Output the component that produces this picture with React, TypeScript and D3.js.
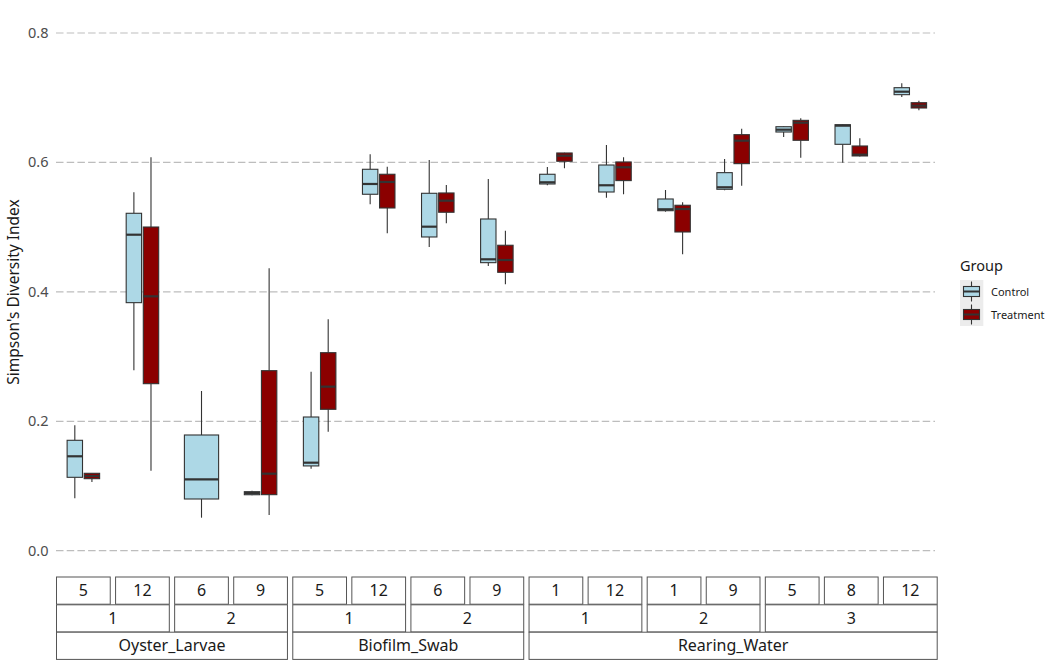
import React from "react";
import * as d3 from "d3";

const sources = ["Oyster_Larvae", "Biofilm_Swab", "Rearing_Water"];
const panelSource = [0, 0, 0, 0, 1, 1, 1, 1, 2, 2, 2, 2, 2, 2, 2];
const panelMid = ["1", "1", "2", "2", "1", "1", "2", "2", "1", "1", "2", "2", "3", "3", "3"];
const panelLabel = ["5", "12", "6", "9", "5", "12", "6", "9", "1", "12", "1", "9", "5", "8", "12"];
const groups = ["Control", "Treatment"];
const groupColors = ["#ADD8E6", "#8B0000"];
const yTicks = [0, 0.2, 0.4, 0.6, 0.8];

// [lower whisker, q1, median, q3, upper whisker]
const controlStats: (number[] | null)[] = [
  [0.081, 0.1134, 0.1459, 0.1706, 0.194],
  [0.2788, 0.3833, 0.4883, 0.5214, 0.5539],
  [0.051, 0.0799, 0.1103, 0.1788, 0.2468],
  [0.0855, 0.0865, 0.089, 0.0912, 0.0925],
  [0.1268, 0.131, 0.136, 0.2066, 0.2766],
  [0.5353, 0.5508, 0.5667, 0.5894, 0.6126],
  [0.4693, 0.4848, 0.5007, 0.5523, 0.6038],
  [0.44, 0.4451, 0.4503, 0.5126, 0.5744],
  [0.5647, 0.5667, 0.5693, 0.5817, 0.593],
  [0.5455, 0.5543, 0.5647, 0.596, 0.627],
  [0.5239, 0.5254, 0.5276, 0.5435, 0.5574],
  [0.557, 0.5585, 0.5616, 0.5842, 0.6053],
  [0.6393, 0.647, 0.6506, 0.6552, 0.656],
  [0.5996, 0.628, 0.6568, 0.6583, 0.659],
  [0.7011, 0.7047, 0.7093, 0.7155, 0.7223],
];
const treatmentStats: (number[] | null)[] = [
  [0.106, 0.1113, 0.1154, 0.1196, 0.1196],
  [0.1236, 0.2581, 0.3931, 0.5002, 0.608],
  null,
  [0.0552, 0.0866, 0.119, 0.2782, 0.4364],
  [0.184, 0.2185, 0.2535, 0.306, 0.3576],
  [0.4905, 0.5296, 0.5698, 0.5817, 0.5934],
  [0.506, 0.523, 0.5409, 0.5528, 0.5652],
  [0.4117, 0.4302, 0.4492, 0.472, 0.4945],
  [0.591, 0.6018, 0.6104, 0.6146, 0.615],
  [0.5508, 0.5719, 0.5925, 0.6007, 0.608],
  [0.458, 0.4925, 0.528, 0.5338, 0.5384],
  [0.564, 0.5981, 0.6336, 0.6429, 0.6521],
  [0.6073, 0.6342, 0.6614, 0.665, 0.6682],
  [0.609, 0.61, 0.612, 0.6254, 0.6373],
  [0.6806, 0.6841, 0.6877, 0.6923, 0.6954],
];

const FONT = "'Noto Sans', 'Open Sans', sans-serif";
const W = 1062, H = 671;
const plotLeft = 56, plotRight = 937.7;
const gap = 4.33;
const nP = panelLabel.length;
const panelW = (plotRight - plotLeft - gap * (nP - 1)) / nP;
const y = d3.scaleLinear().domain([0, 0.8]).range([550.7, 33]);

export default function App() {
  const panelX = (i: number) => plotLeft + i * (panelW + gap);
  const unit = panelW / 1.2; // one discrete level + 0.6 expansion on both sides
  const boxes: React.ReactNode[] = [];
  for (let i = 0; i < nP; i++) {
    const cx = panelX(i) + panelW / 2;
    const stats = [controlStats[i], treatmentStats[i]];
    const present = stats.filter((s) => s !== null).length;
    stats.forEach((s, g) => {
      if (!s) return;
      let bx: number, bw: number;
      if (present === 1) {
        bw = 0.75 * unit;
        bx = cx - bw / 2;
      } else {
        const half = 0.375 * unit;
        const center = cx + (g === 0 ? -half / 2 : half / 2);
        bw = half * 0.9;
        bx = center - bw / 2;
      }
      const mx = bx + bw / 2;
      boxes.push(
        <g key={`b${i}-${g}`}>
          <line x1={mx} x2={mx} y1={y(s[4])} y2={y(s[3])} stroke="#333" strokeWidth={1.1} />
          <line x1={mx} x2={mx} y1={y(s[1])} y2={y(s[0])} stroke="#333" strokeWidth={1.1} />
          <rect x={bx} y={y(s[3])} width={bw} height={Math.max(0.5, y(s[1]) - y(s[3]))}
            fill={groupColors[g]} stroke="#333" strokeWidth={1.1} />
          <line x1={bx} x2={bx + bw} y1={y(s[2])} y2={y(s[2])} stroke="#333" strokeWidth={2.2} />
        </g>
      );
    });
  }

  const rowY = [577, 604.8, 632.2];
  const rowH = 27.2;
  const stripText = (x: number, yy: number, label: string, key: string) => (
    <text key={key} x={x} y={yy + rowH / 2 + 5.6} textAnchor="middle" fontSize={16} fill="#1a1a1a" fontFamily={FONT}>{label}</text>
  );
  const strips: React.ReactNode[] = [];
  for (let i = 0; i < nP; i++) {
    const x0 = panelX(i);
    strips.push(
      <g key={`s1-${i}`}>
        <rect x={x0 + 0.5} y={rowY[0]} width={panelW - 1} height={rowH} fill="white" stroke="#555" strokeWidth={1} />
        {stripText(x0 + panelW / 2, rowY[0], panelLabel[i], "t")}
      </g>
    );
  }
  const spans = (keyOf: (i: number) => string) => {
    const out: { start: number; end: number; label: string }[] = [];
    for (let i = 0; i < nP; i++) {
      const k = keyOf(i);
      if (out.length && out[out.length - 1].label === k) out[out.length - 1].end = i;
      else out.push({ start: i, end: i, label: k });
    }
    return out;
  };
  const midSpans = spans((i) => panelSource[i] + "|" + panelMid[i]);
  midSpans.forEach((sp, j) => {
    const x0 = panelX(sp.start), x1 = panelX(sp.end) + panelW;
    strips.push(
      <g key={`s2-${j}`}>
        <rect x={x0 + 0.5} y={rowY[1]} width={x1 - x0 - 1} height={rowH} fill="white" stroke="#555" strokeWidth={1} />
        {stripText((x0 + x1) / 2, rowY[1], sp.label.split("|")[1], "t")}
      </g>
    );
  });
  const srcSpans = spans((i) => String(panelSource[i]));
  srcSpans.forEach((sp, j) => {
    const x0 = panelX(sp.start), x1 = panelX(sp.end) + panelW;
    strips.push(
      <g key={`s3-${j}`}>
        <rect x={x0 + 0.5} y={rowY[2]} width={x1 - x0 - 1} height={rowH} fill="white" stroke="#555" strokeWidth={1} />
        {stripText((x0 + x1) / 2, rowY[2], sources[Number(sp.label)], "t")}
      </g>
    );
  });

  return (
    <svg width={W} height={H} style={{ position: "absolute", left: 0, top: 0, background: "white" }}>
      {yTicks.map((t) => (
        <g key={`g${t}`}>
          <line x1={plotLeft} x2={935} y1={y(t)} y2={y(t)} stroke="#bdbdbd" strokeWidth={1.2} strokeDasharray="7.5,3.2" />
          <text x={48.5} y={y(t) + 5} textAnchor="end" fontSize={14.5} fill="#4d4d4d" fontFamily={FONT}>{d3.format(".1f")(t)}</text>
        </g>
      ))}
      {boxes}
      {strips}
      <text transform={`translate(19,292) rotate(-90)`} textAnchor="middle" fontSize={15.5} fill="#1a1a1a" fontFamily={FONT}>Simpson's Diversity Index</text>
      <text x={960} y={271} fontSize={14.5} fill="#1a1a1a" fontFamily={FONT}>Group</text>
      {groups.map((gname, g) => {
        const ky = 280 + g * 23;
        const cx = 971.5;
        return (
          <g key={gname}>
            <rect x={960} y={ky} width={23.3} height={23} fill="#ececec" />
            <line x1={cx} x2={cx} y1={ky + 1.5} y2={ky + 21.5} stroke="#333" strokeWidth={1.1} />
            <rect x={963.5} y={ky + 6.5} width={16} height={10} fill={groupColors[g]} stroke="#333" strokeWidth={1.1} />
            <line x1={963.5} x2={979.5} y1={ky + 11.5} y2={ky + 11.5} stroke="#333" strokeWidth={2} />
            <text x={991} y={ky + 15.5} fontSize={11} fill="#1a1a1a" fontFamily={FONT}>{gname}</text>
          </g>
        );
      })}
    </svg>
  );
}
